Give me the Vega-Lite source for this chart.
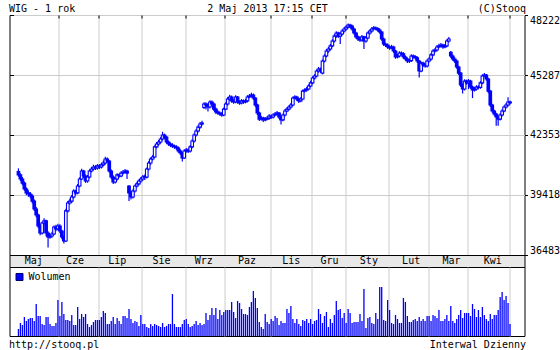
{
"$schema": "https://vega.github.io/schema/vega-lite/v6.json",
"background": "white",
"padding": {"left": 7.5, "top": 2, "right": 0, "bottom": 0},
"bounds": "flush",
"spacing": 0,
"config": {
 "font": "DejaVu Sans Mono",
 "view": {"stroke": "black", "strokeWidth": 1},
 "axis": {"labelFont": "DejaVu Sans Mono", "labelFontSize": 10, "labelColor": "black", "titleFont": "DejaVu Sans Mono", "titleFontSize": 10, "titleFontWeight": "normal", "titleColor": "black", "gridColor": "#cccccc", "gridOpacity": 1, "gridWidth": 1, "domain": false, "tickColor": "black", "tickWidth": 1},
 "legend": {"labelFont": "DejaVu Sans Mono", "labelFontSize": 10, "labelColor": "black"}
},
"resolve": {"scale": {"color": "independent"}, "legend": {"color": "independent"}},
"datasets": {
 "months": [
  {"m":"Maj","s":-0.5,"e":20.5},{"m":"Cze","s":20.5,"e":40.5},{"m":"Lip","s":40.5,"e":62.5},{"m":"Sie","s":62.5,"e":84.5},
  {"m":"Wrz","s":84.5,"e":104.5},{"m":"Paz","s":104.5,"e":127.5},{"m":"Lis","s":127.5,"e":148.5},{"m":"Gru","s":148.5,"e":165.5},
  {"m":"Sty","s":165.5,"e":187.5},{"m":"Lut","s":187.5,"e":207.5},{"m":"Mar","s":207.5,"e":227.5},{"m":"Kwi","s":227.5,"e":248.5}
 ],
 "ohlc": [
{"n":0,"o":40560,"h":40720,"l":40310,"c":40400,"v":140},
{"n":1,"o":40400,"h":40480,"l":40100,"c":40200,"v":260},
{"n":2,"o":40200,"h":40300,"l":39900,"c":40000,"v":220},
{"n":3,"o":40000,"h":40080,"l":39620,"c":39710,"v":380},
{"n":4,"o":39710,"h":39800,"l":39400,"c":39520,"v":300},
{"n":5,"o":39520,"h":39650,"l":39330,"c":39470,"v":340},
{"n":6,"o":39470,"h":39560,"l":39260,"c":39370,"v":360},
{"n":7,"o":39370,"h":39450,"l":39000,"c":39120,"v":360},
{"n":8,"o":39120,"h":39200,"l":38640,"c":38730,"v":300},
{"n":9,"o":38730,"h":38830,"l":38330,"c":38440,"v":640},
{"n":10,"o":38440,"h":38500,"l":37800,"c":37900,"v":400},
{"n":11,"o":37900,"h":37990,"l":37450,"c":37560,"v":400},
{"n":12,"o":37560,"h":38120,"l":37480,"c":38050,"v":240},
{"n":13,"o":38050,"h":38280,"l":37960,"c":38150,"v":220},
{"n":14,"o":38150,"h":38210,"l":37400,"c":37560,"v":380},
{"n":15,"o":37560,"h":37640,"l":36850,"c":37360,"v":380},
{"n":16,"o":37360,"h":37520,"l":37280,"c":37410,"v":240},
{"n":17,"o":37410,"h":37620,"l":37330,"c":37510,"v":200},
{"n":18,"o":37510,"h":37930,"l":37450,"c":37850,"v":200},
{"n":19,"o":37850,"h":37960,"l":37640,"c":37760,"v":260},
{"n":20,"o":37760,"h":38010,"l":37680,"c":37900,"v":720},
{"n":21,"o":37900,"h":37990,"l":37560,"c":37660,"v":400},
{"n":22,"o":37660,"h":37720,"l":37250,"c":37360,"v":680},
{"n":23,"o":37360,"h":37420,"l":37050,"c":37170,"v":440},
{"n":24,"o":37170,"h":38750,"l":37120,"c":38640,"v":320},
{"n":25,"o":38640,"h":39120,"l":38560,"c":39030,"v":320},
{"n":26,"o":39030,"h":39230,"l":38950,"c":39120,"v":300},
{"n":27,"o":39120,"h":39420,"l":39030,"c":39320,"v":420},
{"n":28,"o":39320,"h":39700,"l":39250,"c":39610,"v":220},
{"n":29,"o":39610,"h":39680,"l":39420,"c":39520,"v":220},
{"n":30,"o":39520,"h":39950,"l":39460,"c":39860,"v":580},
{"n":31,"o":39860,"h":40280,"l":39800,"c":40200,"v":340},
{"n":32,"o":40200,"h":40700,"l":40150,"c":40590,"v":440},
{"n":33,"o":40590,"h":40650,"l":40250,"c":40350,"v":380},
{"n":34,"o":40350,"h":40420,"l":40010,"c":40100,"v":440},
{"n":35,"o":40100,"h":40400,"l":40020,"c":40300,"v":240},
{"n":36,"o":40300,"h":40680,"l":40230,"c":40590,"v":180},
{"n":37,"o":40590,"h":40790,"l":40520,"c":40690,"v":220},
{"n":38,"o":40690,"h":40900,"l":40620,"c":40790,"v":280},
{"n":39,"o":40790,"h":40880,"l":40640,"c":40740,"v":320},
{"n":40,"o":40740,"h":40930,"l":40660,"c":40840,"v":320},
{"n":41,"o":40840,"h":40920,"l":40690,"c":40790,"v":320},
{"n":42,"o":40790,"h":40990,"l":40710,"c":40890,"v":380},
{"n":43,"o":40890,"h":41100,"l":40820,"c":40980,"v":500},
{"n":44,"o":40980,"h":41290,"l":40910,"c":41180,"v":460},
{"n":45,"o":41180,"h":41250,"l":40990,"c":41080,"v":240},
{"n":46,"o":41080,"h":41120,"l":40500,"c":40590,"v":240},
{"n":47,"o":40590,"h":40660,"l":40200,"c":40300,"v":300},
{"n":48,"o":40300,"h":40380,"l":39960,"c":40050,"v":380},
{"n":49,"o":40050,"h":40290,"l":39980,"c":40200,"v":240},
{"n":50,"o":40200,"h":40480,"l":40130,"c":40400,"v":360},
{"n":51,"o":40400,"h":40470,"l":40260,"c":40350,"v":300},
{"n":52,"o":40350,"h":40580,"l":40290,"c":40490,"v":240},
{"n":53,"o":40490,"h":40640,"l":40420,"c":40540,"v":400},
{"n":54,"o":40540,"h":40690,"l":40480,"c":40590,"v":400},
{"n":55,"o":40590,"h":40650,"l":40200,"c":40490,"v":360},
{"n":56,"o":39860,"h":39900,"l":39120,"c":39520,"v":540},
{"n":57,"o":39520,"h":39600,"l":39200,"c":39320,"v":340},
{"n":58,"o":39320,"h":39700,"l":39250,"c":39610,"v":260},
{"n":59,"o":39610,"h":39930,"l":39540,"c":39860,"v":300},
{"n":60,"o":39860,"h":40060,"l":39780,"c":39960,"v":280},
{"n":61,"o":39960,"h":40190,"l":39880,"c":40100,"v":200},
{"n":62,"o":40100,"h":40300,"l":40020,"c":40200,"v":420},
{"n":63,"o":40200,"h":40390,"l":40120,"c":40300,"v":240},
{"n":64,"o":40330,"h":40420,"l":40150,"c":40290,"v":240},
{"n":65,"o":40290,"h":40760,"l":40230,"c":40690,"v":180},
{"n":66,"o":40690,"h":41080,"l":40620,"c":40980,"v":160},
{"n":67,"o":40980,"h":41260,"l":40900,"c":41180,"v":240},
{"n":68,"o":41180,"h":41370,"l":41100,"c":41280,"v":200},
{"n":69,"o":41280,"h":41850,"l":41230,"c":41770,"v":240},
{"n":70,"o":41770,"h":42010,"l":41700,"c":41910,"v":220},
{"n":71,"o":41910,"h":42110,"l":41830,"c":42010,"v":200},
{"n":72,"o":42010,"h":42250,"l":41930,"c":42160,"v":180},
{"n":73,"o":42160,"h":42510,"l":42080,"c":42350,"v":260},
{"n":74,"o":42350,"h":42420,"l":42150,"c":42250,"v":180},
{"n":75,"o":42250,"h":42310,"l":41920,"c":42010,"v":200},
{"n":76,"o":42010,"h":42080,"l":41820,"c":41910,"v":240},
{"n":77,"o":41910,"h":41990,"l":41760,"c":41860,"v":240},
{"n":78,"o":41860,"h":41950,"l":41720,"c":41810,"v":840},
{"n":79,"o":41810,"h":41880,"l":41680,"c":41770,"v":240},
{"n":80,"o":41770,"h":41850,"l":41630,"c":41720,"v":180},
{"n":81,"o":41720,"h":41790,"l":41480,"c":41570,"v":180},
{"n":82,"o":41570,"h":41650,"l":41380,"c":41470,"v":180},
{"n":83,"o":41470,"h":41520,"l":41060,"c":41230,"v":240},
{"n":84,"o":41230,"h":41650,"l":41180,"c":41570,"v":320},
{"n":85,"o":41570,"h":41720,"l":41490,"c":41620,"v":340},
{"n":86,"o":41620,"h":41700,"l":41470,"c":41570,"v":240},
{"n":87,"o":41570,"h":41860,"l":41500,"c":41770,"v":180},
{"n":88,"o":41770,"h":42150,"l":41700,"c":42060,"v":200},
{"n":89,"o":42060,"h":42440,"l":41990,"c":42350,"v":240},
{"n":90,"o":42350,"h":42640,"l":42280,"c":42550,"v":300},
{"n":91,"o":42550,"h":42830,"l":42480,"c":42740,"v":220},
{"n":92,"o":42740,"h":42990,"l":42660,"c":42890,"v":260},
{"n":93,"o":42890,"h":43050,"l":42820,"c":42940,"v":220},
{"n":94,"o":43700,"h":43960,"l":43620,"c":43870,"v":240},
{"n":95,"o":43870,"h":43960,"l":43600,"c":43820,"v":460},
{"n":96,"o":43820,"h":43900,"l":43500,"c":43720,"v":320},
{"n":97,"o":43720,"h":44050,"l":43650,"c":43970,"v":420},
{"n":98,"o":43970,"h":44040,"l":43780,"c":43870,"v":560},
{"n":99,"o":43870,"h":43930,"l":43530,"c":43620,"v":420},
{"n":100,"o":43620,"h":43700,"l":43380,"c":43480,"v":560},
{"n":101,"o":43480,"h":43560,"l":43340,"c":43430,"v":340},
{"n":102,"o":43430,"h":43500,"l":43290,"c":43380,"v":520},
{"n":103,"o":43380,"h":43460,"l":43240,"c":43330,"v":420},
{"n":104,"o":43330,"h":43700,"l":43270,"c":43620,"v":480},
{"n":105,"o":43620,"h":43960,"l":43560,"c":43870,"v":520},
{"n":106,"o":43870,"h":44210,"l":43800,"c":44110,"v":520},
{"n":107,"o":44110,"h":44320,"l":44040,"c":44210,"v":520},
{"n":108,"o":44210,"h":44280,"l":43930,"c":44020,"v":680},
{"n":109,"o":44020,"h":44100,"l":43880,"c":43970,"v":480},
{"n":110,"o":43970,"h":44300,"l":43900,"c":44210,"v":360},
{"n":111,"o":44210,"h":44260,"l":43880,"c":43970,"v":700},
{"n":112,"o":43970,"h":44050,"l":43830,"c":43920,"v":660},
{"n":113,"o":43920,"h":44110,"l":43850,"c":44020,"v":540},
{"n":114,"o":44020,"h":44090,"l":43880,"c":43970,"v":440},
{"n":115,"o":43970,"h":44120,"l":43900,"c":44020,"v":440},
{"n":116,"o":44020,"h":44300,"l":43950,"c":44210,"v":420},
{"n":117,"o":44210,"h":44360,"l":44150,"c":44260,"v":580},
{"n":118,"o":44260,"h":44420,"l":44200,"c":44310,"v":680},
{"n":119,"o":44310,"h":44380,"l":44060,"c":44160,"v":900},
{"n":120,"o":44160,"h":44200,"l":43720,"c":43820,"v":760},
{"n":121,"o":43820,"h":43880,"l":43330,"c":43430,"v":560},
{"n":122,"o":43430,"h":43490,"l":43040,"c":43130,"v":280},
{"n":123,"o":43130,"h":43280,"l":43060,"c":43180,"v":180},
{"n":124,"o":43180,"h":43250,"l":42990,"c":43090,"v":140},
{"n":125,"o":43090,"h":43230,"l":43020,"c":43130,"v":440},
{"n":126,"o":43130,"h":43280,"l":43070,"c":43180,"v":280},
{"n":127,"o":43180,"h":43370,"l":43100,"c":43280,"v":240},
{"n":128,"o":43280,"h":43350,"l":43140,"c":43230,"v":340},
{"n":129,"o":43230,"h":43420,"l":43160,"c":43330,"v":300},
{"n":130,"o":43330,"h":43480,"l":43270,"c":43380,"v":400},
{"n":131,"o":43380,"h":43530,"l":43320,"c":43430,"v":360},
{"n":132,"o":43430,"h":43480,"l":43140,"c":43230,"v":220},
{"n":133,"o":43230,"h":43300,"l":42860,"c":43090,"v":300},
{"n":134,"o":43090,"h":43410,"l":43020,"c":43330,"v":260},
{"n":135,"o":43330,"h":43620,"l":43260,"c":43530,"v":260},
{"n":136,"o":43530,"h":43710,"l":43460,"c":43620,"v":540},
{"n":137,"o":43620,"h":43810,"l":43550,"c":43720,"v":460},
{"n":138,"o":43720,"h":43920,"l":43650,"c":43820,"v":600},
{"n":139,"o":43820,"h":44240,"l":43760,"c":44160,"v":340},
{"n":140,"o":44160,"h":44300,"l":44100,"c":44210,"v":260},
{"n":141,"o":44210,"h":44270,"l":44020,"c":44110,"v":340},
{"n":142,"o":44110,"h":44180,"l":43920,"c":44020,"v":240},
{"n":143,"o":44020,"h":44200,"l":43950,"c":44110,"v":200},
{"n":144,"o":44110,"h":44580,"l":44060,"c":44500,"v":320},
{"n":145,"o":44500,"h":44640,"l":44430,"c":44550,"v":300},
{"n":146,"o":44550,"h":44700,"l":44480,"c":44600,"v":340},
{"n":147,"o":44600,"h":44840,"l":44540,"c":44750,"v":260},
{"n":148,"o":44750,"h":45000,"l":44690,"c":44900,"v":340},
{"n":149,"o":44900,"h":45230,"l":44840,"c":45140,"v":240},
{"n":150,"o":45140,"h":45330,"l":45060,"c":45240,"v":300},
{"n":151,"o":45240,"h":45560,"l":45180,"c":45480,"v":320},
{"n":152,"o":45480,"h":45680,"l":45400,"c":45580,"v":540},
{"n":153,"o":45580,"h":45650,"l":45390,"c":45480,"v":440},
{"n":154,"o":45380,"h":46050,"l":45320,"c":45970,"v":260},
{"n":155,"o":45970,"h":46300,"l":45900,"c":46220,"v":400},
{"n":156,"o":46220,"h":46560,"l":46150,"c":46460,"v":480},
{"n":157,"o":46460,"h":46660,"l":46380,"c":46560,"v":180},
{"n":158,"o":46560,"h":46800,"l":46480,"c":46710,"v":340},
{"n":159,"o":46710,"h":47040,"l":46640,"c":46950,"v":260},
{"n":160,"o":46950,"h":47280,"l":46880,"c":47190,"v":420},
{"n":161,"o":47190,"h":47430,"l":47110,"c":47340,"v":700},
{"n":162,"o":47340,"h":47400,"l":47100,"c":47190,"v":520},
{"n":163,"o":47190,"h":47390,"l":46800,"c":47290,"v":540},
{"n":164,"o":47290,"h":47530,"l":47220,"c":47440,"v":360},
{"n":165,"o":47440,"h":47630,"l":47370,"c":47540,"v":460},
{"n":166,"o":47540,"h":47720,"l":47460,"c":47630,"v":260},
{"n":167,"o":47630,"h":47810,"l":47560,"c":47730,"v":540},
{"n":168,"o":47730,"h":47790,"l":47590,"c":47680,"v":460},
{"n":169,"o":47680,"h":47740,"l":47450,"c":47540,"v":260},
{"n":170,"o":47540,"h":47600,"l":47250,"c":47340,"v":280},
{"n":171,"o":47340,"h":47400,"l":47060,"c":47150,"v":280},
{"n":172,"o":47150,"h":47220,"l":46950,"c":47050,"v":280},
{"n":173,"o":47050,"h":47130,"l":46900,"c":47000,"v":440},
{"n":174,"o":47000,"h":47240,"l":46920,"c":47150,"v":300},
{"n":175,"o":47150,"h":47210,"l":46560,"c":46950,"v":940},
{"n":176,"o":46950,"h":47190,"l":46870,"c":47100,"v":160},
{"n":177,"o":47100,"h":47420,"l":47030,"c":47340,"v":360},
{"n":178,"o":47340,"h":47530,"l":47260,"c":47440,"v":380},
{"n":179,"o":47440,"h":47640,"l":47360,"c":47540,"v":260},
{"n":180,"o":47540,"h":47690,"l":47470,"c":47590,"v":240},
{"n":181,"o":47590,"h":47660,"l":47480,"c":47560,"v":460},
{"n":182,"o":47560,"h":47620,"l":47400,"c":47490,"v":340},
{"n":183,"o":47490,"h":47560,"l":47300,"c":47390,"v":980},
{"n":184,"o":47390,"h":47440,"l":46960,"c":47050,"v":980},
{"n":185,"o":47050,"h":47110,"l":46700,"c":46800,"v":320},
{"n":186,"o":46800,"h":46870,"l":46660,"c":46750,"v":300},
{"n":187,"o":46750,"h":46830,"l":46570,"c":46660,"v":720},
{"n":188,"o":46660,"h":46730,"l":46520,"c":46610,"v":520},
{"n":189,"o":46610,"h":46760,"l":46540,"c":46660,"v":260},
{"n":190,"o":46660,"h":46720,"l":46370,"c":46460,"v":240},
{"n":191,"o":46460,"h":46510,"l":46080,"c":46170,"v":420},
{"n":192,"o":46170,"h":46320,"l":46100,"c":46220,"v":340},
{"n":193,"o":46220,"h":46450,"l":46150,"c":46360,"v":260},
{"n":194,"o":46360,"h":46440,"l":46240,"c":46330,"v":260},
{"n":195,"o":46330,"h":46400,"l":46080,"c":46170,"v":760},
{"n":196,"o":46170,"h":46240,"l":45980,"c":46070,"v":680},
{"n":197,"o":46070,"h":46140,"l":45880,"c":45970,"v":400},
{"n":198,"o":45970,"h":46100,"l":45880,"c":45990,"v":280},
{"n":199,"o":45990,"h":46300,"l":45920,"c":46220,"v":280},
{"n":200,"o":46220,"h":46290,"l":46090,"c":46180,"v":320},
{"n":201,"o":46180,"h":46250,"l":46040,"c":46130,"v":340},
{"n":202,"o":46130,"h":46200,"l":45880,"c":45970,"v":300},
{"n":203,"o":45970,"h":46020,"l":45160,"c":45480,"v":380},
{"n":204,"o":45480,"h":45950,"l":45420,"c":45870,"v":300},
{"n":205,"o":45870,"h":45940,"l":45690,"c":45780,"v":340},
{"n":206,"o":45780,"h":45850,"l":45640,"c":45730,"v":300},
{"n":207,"o":45730,"h":46060,"l":45660,"c":45970,"v":400},
{"n":208,"o":45970,"h":46160,"l":45900,"c":46070,"v":400},
{"n":209,"o":46070,"h":46360,"l":46000,"c":46270,"v":300},
{"n":210,"o":46270,"h":46550,"l":46200,"c":46460,"v":420},
{"n":211,"o":46460,"h":46610,"l":46390,"c":46510,"v":400},
{"n":212,"o":46510,"h":46750,"l":46440,"c":46660,"v":360},
{"n":213,"o":46660,"h":46810,"l":46600,"c":46710,"v":520},
{"n":214,"o":46710,"h":46850,"l":46640,"c":46750,"v":300},
{"n":215,"o":46750,"h":46820,"l":46570,"c":46660,"v":300},
{"n":216,"o":46660,"h":46800,"l":46600,"c":46710,"v":340},
{"n":217,"o":46710,"h":47040,"l":46640,"c":46950,"v":420},
{"n":218,"o":46950,"h":47150,"l":46880,"c":47050,"v":300},
{"n":219,"o":46400,"h":46460,"l":46120,"c":46220,"v":600},
{"n":220,"o":46220,"h":46290,"l":45980,"c":46070,"v":300},
{"n":221,"o":46070,"h":46150,"l":45880,"c":45970,"v":260},
{"n":222,"o":45970,"h":46030,"l":45590,"c":45680,"v":340},
{"n":223,"o":45680,"h":45740,"l":45290,"c":45380,"v":420},
{"n":224,"o":45380,"h":45440,"l":44700,"c":44800,"v":520},
{"n":225,"o":44800,"h":44880,"l":44380,"c":44600,"v":360},
{"n":226,"o":44600,"h":45080,"l":44530,"c":44990,"v":460},
{"n":227,"o":44990,"h":45060,"l":44810,"c":44900,"v":460},
{"n":228,"o":44900,"h":45090,"l":44600,"c":44990,"v":460},
{"n":229,"o":44990,"h":45050,"l":44610,"c":44700,"v":400},
{"n":230,"o":44700,"h":44760,"l":44160,"c":44550,"v":640},
{"n":231,"o":44550,"h":44700,"l":44480,"c":44600,"v":540},
{"n":232,"o":44600,"h":44790,"l":44530,"c":44700,"v":380},
{"n":233,"o":44700,"h":44780,"l":44590,"c":44680,"v":520},
{"n":234,"o":44680,"h":44990,"l":44610,"c":44900,"v":380},
{"n":235,"o":44900,"h":45330,"l":44840,"c":45240,"v":580},
{"n":236,"o":45240,"h":45380,"l":45200,"c":45290,"v":420},
{"n":237,"o":45290,"h":45340,"l":45000,"c":45090,"v":340},
{"n":238,"o":45090,"h":45150,"l":44400,"c":44500,"v":300},
{"n":239,"o":44500,"h":44550,"l":43720,"c":43820,"v":440},
{"n":240,"o":43820,"h":43880,"l":43440,"c":43530,"v":340},
{"n":241,"o":43530,"h":43590,"l":43290,"c":43380,"v":420},
{"n":242,"o":43380,"h":43440,"l":42800,"c":43230,"v":420},
{"n":243,"o":43230,"h":43290,"l":42800,"c":43130,"v":520},
{"n":244,"o":43130,"h":43420,"l":43060,"c":43330,"v":780},
{"n":245,"o":43330,"h":43610,"l":43260,"c":43530,"v":880},
{"n":246,"o":43530,"h":43800,"l":43460,"c":43720,"v":720},
{"n":247,"o":43720,"h":43920,"l":43650,"c":43820,"v":800},
{"n":248,"o":43820,"h":44200,"l":43750,"c":43970,"v":660},
{"n":249,"o":43970,"h":44030,"l":43850,"c":43920,"v":240}
 ]
},
"vconcat": [
 {
  "width": 515, "height": 240,
  "data": {"name": "ohlc"},
  "layer": [
   {
    "mark": {"type": "rule", "color": "#0000ff", "strokeWidth": 1.2},
    "encoding": {
     "x": {"field": "n", "type": "quantitative", "scale": {"domain": [-2, 253.8], "nice": false, "zero": false},
      "axis": {"orient": "top", "values": [20.5,40.5,62.5,84.5,104.5,127.5,148.5,165.5,187.5,207.5,227.5,248.5], "grid": true, "labels": false, "tickSize": -3,
       "title": "2 Maj 2013 17:15 CET", "titleX": 257.5, "titleY": -4, "titleAlign": "center", "titleBaseline": "alphabetic"}},
     "y": {"field": "l", "type": "quantitative", "scale": {"domain": [36483, 48222], "nice": false, "zero": false},
      "axis": {"orient": "right", "values": [36483,39418,42353,45287,48222], "format": "d", "grid": true, "tickSize": 3, "labelPadding": 2, "labelFlush": true, "labelFlushOffset": 0,
       "title": "(C)Stooq", "titleAngle": 0, "titleX": 1, "titleY": -4, "titleAlign": "right", "titleBaseline": "alphabetic"}},
     "y2": {"field": "h"}
    }
   },
   {
    "mark": {"type": "bar", "width": 2.6, "stroke": "#0000ff", "strokeWidth": 1.1},
    "encoding": {
     "x": {"field": "n", "type": "quantitative",
      "axis": {"orient": "bottom", "values": [20.5,40.5,62.5,84.5,104.5,127.5,148.5,165.5,187.5,207.5,227.5,248.5], "grid": false, "labels": false, "tickSize": 3, "title": null}},
     "y": {"field": "o", "type": "quantitative",
      "axis": {"orient": "left", "values": [36483,39418,42353,45287,48222], "grid": false, "labels": false, "tickSize": -4,
       "title": "WIG - 1 rok", "titleAngle": 0, "titleX": -1, "titleY": -4, "titleAlign": "left", "titleBaseline": "alphabetic"}},
     "y2": {"field": "c"},
     "fill": {"condition": {"test": "datum.c > datum.o", "value": "white"}, "value": "#0000ff"}
    }
   }
  ],
  "resolve": {"axis": {"x": "independent", "y": "independent"}}
 },
 {
  "width": 515, "height": 12,
  "view": {"fill": "#e8e8e8", "stroke": "black"},
  "data": {"name": "months"},
  "transform": [{"calculate": "(datum.s + datum.e) / 2", "as": "mid"}],
  "mark": {"type": "text", "font": "DejaVu Sans Mono", "fontSize": 10, "color": "black", "baseline": "middle", "align": "center"},
  "encoding": {
   "x": {"field": "mid", "type": "quantitative", "scale": {"domain": [-2, 253.8], "nice": false, "zero": false}, "axis": null},
   "text": {"field": "m"}
  }
 },
 {
  "width": 515, "height": 69,
  "data": {"name": "ohlc"},
  "mark": {"type": "bar", "width": 1.3},
  "encoding": {
   "x": {"field": "n", "type": "quantitative", "scale": {"domain": [-2, 253.8], "nice": false, "zero": false},
    "axis": {"orient": "bottom", "values": [20.5,40.5,62.5,84.5,104.5,127.5,148.5,165.5,187.5,207.5,227.5,248.5], "grid": true, "ticks": false, "labels": false,
     "title": "Interwal Dzienny", "titleX": 516, "titleY": 11, "titleAlign": "right", "titleBaseline": "alphabetic"}},
   "y": {"field": "v", "type": "quantitative", "scale": {"domain": [0, 1380], "nice": false},
    "axis": {"orient": "left", "grid": false, "ticks": false, "labels": false,
     "title": "http://stooq.pl", "titleAngle": 0, "titleX": -1, "titleY": 80, "titleAlign": "left", "titleBaseline": "alphabetic"}},
   "color": {"datum": "Wolumen", "scale": {"range": ["#0000ff"]},
    "legend": {"orient": "top-left", "title": null, "offset": 5, "padding": 0, "symbolType": "square", "symbolSize": 49, "symbolStrokeColor": "#000066", "symbolStrokeWidth": 1, "labelOffset": 4}}
  }
 }
]
}
